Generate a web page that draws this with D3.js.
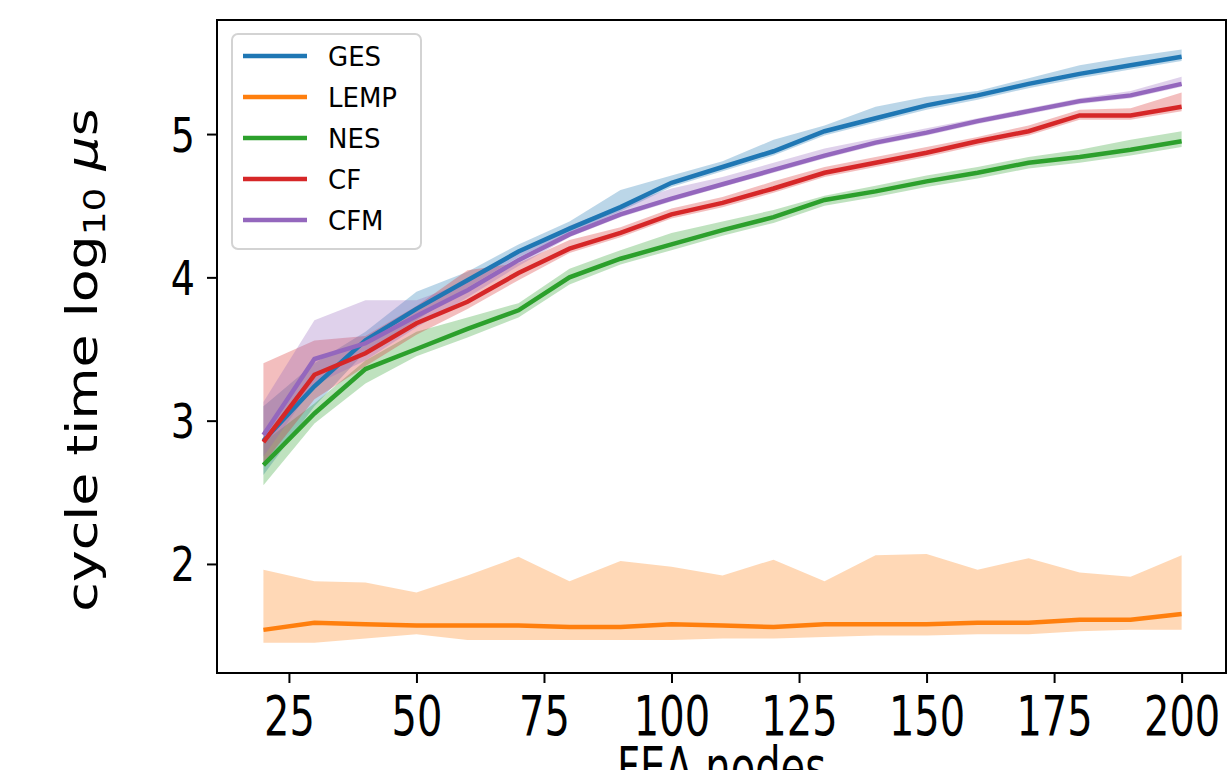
<!DOCTYPE html>
<html>
<head>
<meta charset="utf-8">
<script src="https://cdn.jsdelivr.net/npm/d3@7"></script>
<style>
  body { margin: 0; background: #fff; }
  text { font-family: "DejaVu Sans", sans-serif; }
</style>
</head>
<body>
<div id="grafik"></div>
<script>
// FEA node counts
const nodes = [20, 30, 40, 50, 60, 70, 80, 90, 100, 110, 120, 130, 140, 150, 160, 170, 180, 190, 200];

// mean log10 cycle time per method
const gesMean  = [2.86, 3.24, 3.56, 3.78, 3.98, 4.18, 4.34, 4.49, 4.66, 4.77, 4.88, 5.02, 5.11, 5.20, 5.27, 5.35, 5.42, 5.48, 5.54];
const lempMean = [1.54, 1.59, 1.58, 1.57, 1.57, 1.57, 1.56, 1.56, 1.58, 1.57, 1.56, 1.58, 1.58, 1.58, 1.59, 1.59, 1.61, 1.61, 1.65];
const nesMean  = [2.69, 3.05, 3.36, 3.50, 3.64, 3.77, 4.00, 4.13, 4.23, 4.33, 4.42, 4.54, 4.60, 4.67, 4.73, 4.80, 4.84, 4.89, 4.95];
const cfMean   = [2.85, 3.32, 3.47, 3.68, 3.83, 4.03, 4.20, 4.31, 4.44, 4.52, 4.62, 4.73, 4.80, 4.87, 4.95, 5.02, 5.13, 5.13, 5.19];
const cfmMean  = [2.90, 3.43, 3.54, 3.73, 3.91, 4.12, 4.30, 4.44, 4.55, 4.65, 4.75, 4.85, 4.94, 5.01, 5.09, 5.16, 5.23, 5.27, 5.35];

// band limits (min / max)
const gesLo  = [2.62, 3.10, 3.48, 3.70, 3.93, 4.14, 4.31, 4.46, 4.63, 4.74, 4.85, 4.99, 5.08, 5.17, 5.24, 5.32, 5.39, 5.45, 5.51];
const gesHi  = [3.10, 3.40, 3.62, 3.90, 4.04, 4.23, 4.39, 4.61, 4.71, 4.81, 4.96, 5.06, 5.19, 5.26, 5.30, 5.39, 5.48, 5.54, 5.59];
const lempLo = [1.45, 1.45, 1.48, 1.51, 1.47, 1.47, 1.47, 1.47, 1.47, 1.48, 1.48, 1.49, 1.50, 1.50, 1.51, 1.51, 1.53, 1.54, 1.54];
const lempHi = [1.96, 1.88, 1.87, 1.80, 1.92, 2.05, 1.88, 2.02, 1.98, 1.92, 2.03, 1.88, 2.06, 2.07, 1.96, 2.04, 1.94, 1.91, 2.06];
const nesLo  = [2.55, 2.98, 3.26, 3.45, 3.58, 3.72, 3.95, 4.09, 4.19, 4.29, 4.38, 4.50, 4.56, 4.63, 4.69, 4.76, 4.80, 4.85, 4.91];
const nesHi  = [2.85, 3.12, 3.42, 3.62, 3.72, 3.82, 4.06, 4.19, 4.31, 4.39, 4.47, 4.57, 4.64, 4.71, 4.77, 4.84, 4.89, 4.96, 5.02];
const cfLo   = [2.70, 3.15, 3.38, 3.60, 3.78, 3.98, 4.17, 4.28, 4.41, 4.49, 4.59, 4.70, 4.77, 4.84, 4.92, 4.99, 5.10, 5.10, 5.16];
const cfHi   = [3.40, 3.56, 3.59, 3.80, 4.05, 4.10, 4.26, 4.35, 4.48, 4.56, 4.67, 4.77, 4.84, 4.91, 4.98, 5.06, 5.17, 5.18, 5.29];
const cfmLo  = [2.75, 3.25, 3.42, 3.65, 3.86, 4.08, 4.28, 4.42, 4.53, 4.63, 4.73, 4.83, 4.92, 4.99, 5.07, 5.14, 5.21, 5.25, 5.33];
const cfmHi  = [3.13, 3.70, 3.84, 3.84, 3.97, 4.17, 4.36, 4.50, 4.62, 4.70, 4.80, 4.90, 4.97, 5.04, 5.11, 5.18, 5.25, 5.30, 5.40];

const methods = ["GES", "LEMP", "NES", "CF", "CFM"];
const colors  = ["#1f77b4", "#ff7f0e", "#2ca02c", "#d62728", "#9467bd"];
const means   = [gesMean, lempMean, nesMean, cfMean, cfmMean];
const lows    = [gesLo, lempLo, nesLo, cfLo, cfmLo];
const highs   = [gesHi, lempHi, nesHi, cfHi, cfmHi];

const xTicks = [25, 50, 75, 100, 125, 150, 175, 200];
const yTicks = [2, 3, 4, 5];

const W = 1231, H = 770;
const box = {left: 217, top: 20, right: 1226, bottom: 673};

const svg = d3.select("#grafik").append("svg")
  .attr("width", W).attr("height", H);

const x = d3.scaleLinear().domain([10.9, 208.7]).range([box.left, box.right]);
const y = d3.scaleLinear().domain([1.239, 5.796]).range([box.bottom, box.top]);

// bands first (they sit under all the lines)
const area = d3.area()
  .x((d, i) => x(nodes[i]))
  .y0(d => y(d[0]))
  .y1(d => y(d[1]));

methods.forEach((m, k) => {
  svg.append("path")
    .datum(nodes.map((n, i) => [lows[k][i], highs[k][i]]))
    .attr("d", area)
    .attr("fill", colors[k])
    .attr("fill-opacity", 0.3);
});

const line = d3.line()
  .x((d, i) => x(nodes[i]))
  .y(d => y(d));

methods.forEach((m, k) => {
  svg.append("path")
    .datum(means[k])
    .attr("d", line)
    .attr("fill", "none")
    .attr("stroke", colors[k])
    .attr("stroke-width", 4.5);
});

// axes
const xAxis = svg.append("g")
  .attr("transform", `translate(0,${box.bottom})`)
  .call(d3.axisBottom(x).tickValues(xTicks).tickSize(10).tickSizeOuter(0));
xAxis.select(".domain").remove();
xAxis.selectAll("line").attr("stroke", "#000").attr("stroke-width", 2);
xAxis.selectAll("text")
  .attr("fill", "#000")
  .style("font-size", "40px")
  .attr("dy", null)
  .attr("y", 0)
  .attr("transform", "translate(0,62) scale(1,1.37)");

const yAxis = svg.append("g")
  .attr("transform", `translate(${box.left},0)`)
  .call(d3.axisLeft(y).tickValues(yTicks).tickFormat(d3.format("d")).tickSize(10).tickSizeOuter(0).tickPadding(12));
yAxis.select(".domain").remove();
yAxis.selectAll("line").attr("stroke", "#000").attr("stroke-width", 2);
yAxis.selectAll("text")
  .attr("fill", "#000")
  .style("font-size", "38px")
  .attr("dy", null)
  .attr("y", 0)
  .attr("transform", "translate(0,17) scale(1,1.25)");

// frame
svg.append("rect")
  .attr("x", box.left).attr("y", box.top)
  .attr("width", box.right - box.left).attr("height", box.bottom - box.top)
  .attr("fill", "none").attr("stroke", "#000").attr("stroke-width", 2);

// axis titles
svg.append("text")
  .attr("transform", `translate(${(box.left + box.right) / 2},786) scale(1,1.37)`)
  .attr("text-anchor", "middle")
  .style("font-size", "40px")
  .text("FEA nodes");

const yl = svg.append("text")
  .attr("transform", `translate(97,360) rotate(-90) scale(1.25,1)`)
  .attr("text-anchor", "middle")
  .style("font-size", "43px");
yl.append("tspan").text("cycle time log");
yl.append("tspan").attr("dy", 8).style("font-size", "30px").text("10");
yl.append("tspan").attr("dy", -8).text(" ");
yl.append("tspan").style("font-style", "italic").text("\u03bc");
yl.append("tspan").text("s");

// legend
const lg = svg.append("g").attr("transform", "translate(232,34)");
lg.append("rect")
  .attr("width", 189).attr("height", 215)
  .attr("rx", 6)
  .attr("fill", "#fff").attr("fill-opacity", 0.8)
  .attr("stroke", "#d3d3d3").attr("stroke-width", 2);

const items = lg.selectAll(".legend-item")
  .data(methods)
  .enter().append("g")
  .attr("class", "legend-item")
  .attr("transform", (d, i) => `translate(0,${22 + i * 41})`);

items.append("line")
  .attr("x1", 11).attr("x2", 75)
  .attr("stroke", (d, i) => colors[i])
  .attr("stroke-width", 4.5);

items.append("text")
  .attr("x", 96).attr("y", 9.5)
  .style("font-size", "26px")
  .attr("fill", "#000")
  .text(d => d);
</script>
</body>
</html>
